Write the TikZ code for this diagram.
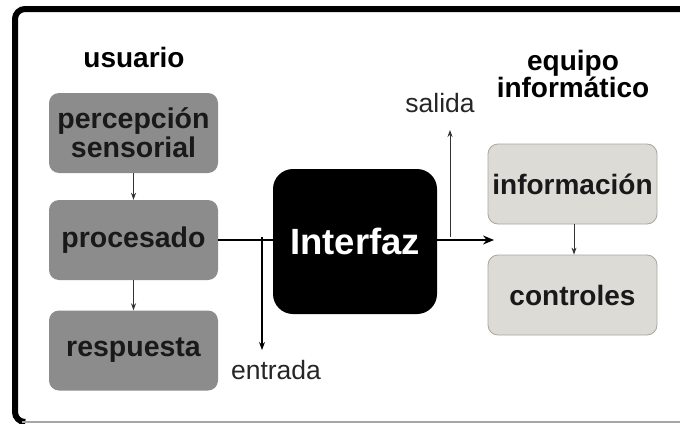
\documentclass[tikz,border=0pt]{standalone}
\usepackage{fontspec}
\setmainfont{Liberation Sans}
\usetikzlibrary{arrows.meta,calc}
\definecolor{usrgray}{HTML}{8C8C8C}
\definecolor{eqfill}{HTML}{DDDBD6}
\definecolor{eqdraw}{HTML}{A8A6A2}
\definecolor{linegray}{HTML}{333333}
\begin{document}
\begin{tikzpicture}[x=1pt,y=-1pt,
  usrbox/.style={fill=usrgray, rounded corners=10pt, minimum width=169pt, minimum height=80pt,
    inner sep=0pt, align=center, font=\fontsize{28.5}{29}\selectfont\bfseries, text=black!90},
  eqbox/.style={fill=eqfill, draw=eqdraw, line width=0.8pt, rounded corners=10pt, minimum width=169pt,
    minimum height=80pt, inner sep=0pt, align=center, font=\fontsize{28}{29}\selectfont\bfseries, text=black!90},
  ifbox/.style={fill=black, rounded corners=20pt, minimum width=164pt, minimum height=145pt,
    inner sep=0pt, font=\fontsize{36.5}{36}\selectfont\bfseries, text=white},
  title/.style={font=\fontsize{28}{27}\selectfont\bfseries, align=center, inner sep=0pt},
  lbl/.style={font=\fontsize{26.5}{26}\selectfont, inner sep=0pt, text=black!85},
  thinarrow/.style={draw=linegray, line width=1pt, -{Stealth[length=7pt,width=5pt]}},
  thinline/.style={draw=black, line width=1.2pt}
]
\useasboundingbox (0,0) rectangle (680,423);
\fill[white] (0,0) rectangle (680,423);
% frame
\draw[black, line width=6pt, rounded corners=10pt] (684,9) -- (15,9) -- (15,422) -- (24,422);
\draw[gray!70, line width=1.5pt] (22,422) -- (680,422);

% titles
\node[title] (usuario) at (134,57) {usuario};
\node[title] (equipo) at (573,74) {equipo\\informático};

% left column
\node[usrbox] (perc) at (133.5,133) {percepción\\sensorial};
\node[usrbox] (proc) at (133.5,240) {procesado};
\node[usrbox] (resp) at (133.5,350.5) {respuesta};

% interface
\node[ifbox] (inter) at (355,241.5) {Interfaz};

% right column
\node[eqbox] (info) at (572.5,184) {información};
\node[eqbox] (ctrl) at (572.5,295) {controles};

% labels
\node[lbl] (salida) at (440,103) {salida};
\node[lbl] (entrada) at (276,370) {entrada};

% connectors
\draw[thinarrow] (perc.south) -- (proc.north);
\draw[thinarrow] (proc.south) -- (resp.north);
\draw[thinarrow] (info.south -| 574,0) -- (ctrl.north -| 574,0);

\draw[thinline] (proc.east |- 0,240) -- (inter.west |- 0,240);
\coordinate (ein) at (262,237);
\coordinate (eout) at (262,350);
\draw[black, line width=1.2pt, -{Stealth[length=8pt,width=6pt]}] (ein) -- (eout);

\coordinate (outend) at (494,240);
\draw[black, line width=1.4pt, -{Stealth[length=11pt,width=9pt]}] (inter.east |- 0,240) -- (outend);
\coordinate (sin) at (450,237);
\coordinate (sout) at (450,130);
\draw[linegray, line width=1pt, -{Stealth[length=7pt,width=5pt]}] (sin) -- (sout);
\end{tikzpicture}
\end{document}
